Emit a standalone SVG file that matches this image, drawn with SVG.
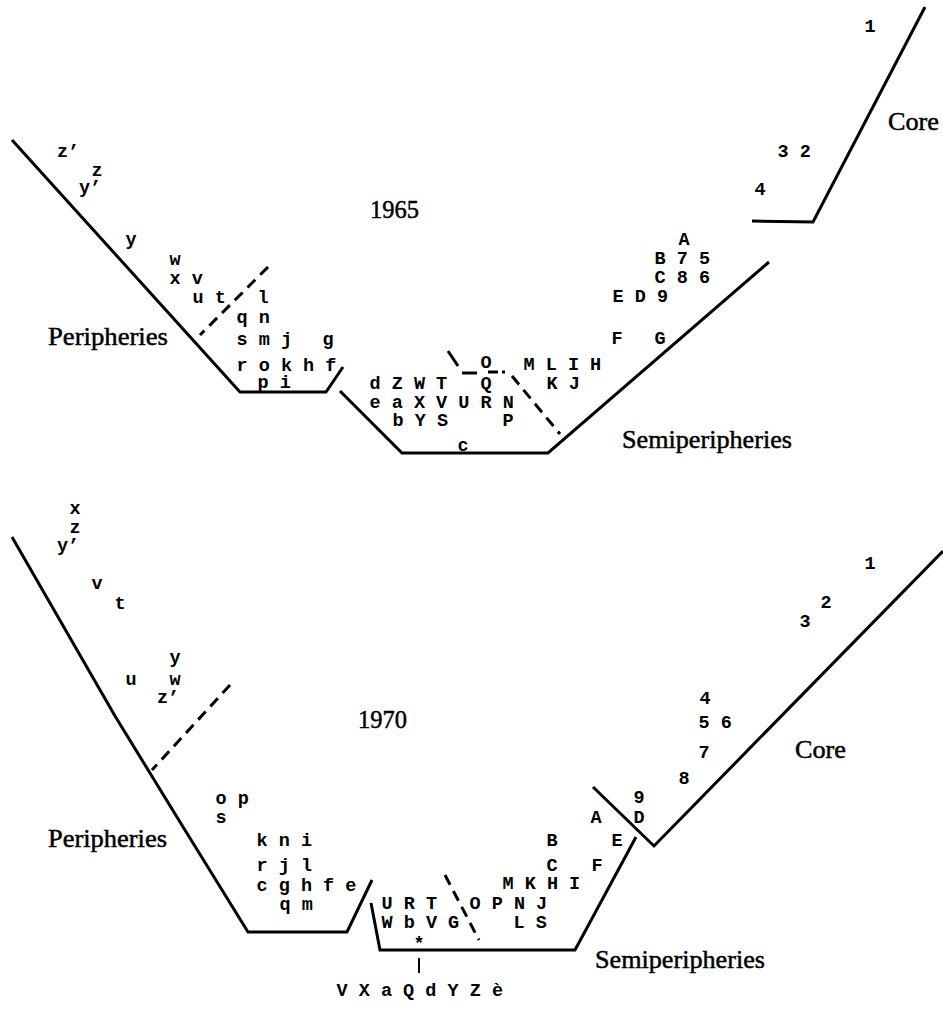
<svg xmlns="http://www.w3.org/2000/svg" width="943" height="1019" viewBox="0 0 943 1019">
<style>
.ln{stroke:#000;stroke-width:3;fill:none;stroke-linejoin:miter}
.ds{stroke:#000;stroke-width:3;fill:none;stroke-dasharray:11 7}
.m{font-family:"Liberation Mono","Courier New",monospace;font-size:18.5px;font-weight:bold;fill:#000}
.mc{font-family:"Liberation Mono","Courier New",monospace;font-size:18.5px;font-weight:bold;fill:#000;text-anchor:middle}
.s{font-family:"Liberation Serif","Times New Roman",serif;font-size:26px;fill:#000;stroke:#000;stroke-width:0.5}
</style>
<rect width="943" height="1019" fill="#fff"/>

<g id="chart-1965">
  <g id="connectors-1965">
    <polyline class="ln" points="12,140 240,392 326,392 343,367"/>
    <polyline class="ln" points="340,391 402,453 548,453 769,262"/>
    <polyline class="ln" points="752,221 813,222 925,7"/>
    <line class="ds" x1="268" y1="267" x2="200" y2="335"/>
    <line class="ln" x1="448" y1="351" x2="458" y2="366"/>
    <line class="ln" x1="462" y1="373" x2="477" y2="373"/>
    <line class="ln" x1="488" y1="372" x2="498" y2="372"/>
    <line class="ln" x1="502" y1="372" x2="505" y2="372"/>
    <line class="ds" x1="512" y1="376" x2="560" y2="434"/>
  </g>
  <g id="labels-1965">
    <text class="s" x="370" y="218" textLength="49" lengthAdjust="spacingAndGlyphs">1965</text>
    <text class="s" x="48" y="345" textLength="120" lengthAdjust="spacingAndGlyphs">Peripheries</text>
    <text class="s" x="888" y="130" textLength="51" lengthAdjust="spacingAndGlyphs">Core</text>
    <text class="s" x="622" y="448" textLength="170" lengthAdjust="spacingAndGlyphs">Semiperipheries</text>
  </g>
  <g id="peripheries-1965">
    <text class="m" x="57" y="157">z’</text>
    <text class="mc" x="97" y="176">z</text>
    <text class="m" x="79" y="193">y’</text>
    <text class="mc" x="131" y="245">y</text>
    <text class="mc" x="175" y="265">w</text>
    <text class="m" x="169.5" y="284">x v</text>
    <text class="m" x="192.5" y="303">u t</text>
    <text class="mc" x="263" y="303">l</text>
    <text class="m" x="236.5" y="323">q n</text>
    <text class="m" x="236.5" y="345">s m j</text>
    <text class="mc" x="328" y="345">g</text>
    <text class="m" x="236.5" y="371">r o k h f</text>
    <text class="m" x="257.5" y="388">p i</text>
  </g>
  <g id="semiperipheries-1965">
    <text class="mc" x="486" y="368">O</text>
    <text class="m" x="523.5" y="370">M L I H</text>
    <text class="m" x="369.5" y="389">d Z W T</text>
    <text class="mc" x="486" y="389">Q</text>
    <text class="m" x="546.5" y="389">K J</text>
    <text class="m" x="369.5" y="408">e a X V U R N</text>
    <text class="m" x="392.5" y="426">b Y S</text>
    <text class="mc" x="508" y="426">P</text>
    <text class="mc" x="463" y="451">c</text>
    <text class="mc" x="684" y="245">A</text>
    <text class="m" x="654.5" y="264">B 7 5</text>
    <text class="m" x="654.5" y="283">C 8 6</text>
    <text class="m" x="612.5" y="302">E D 9</text>
    <text class="mc" x="617" y="344">F</text>
    <text class="mc" x="660" y="344">G</text>
  </g>
  <g id="core-1965">
    <text class="mc" x="870" y="32">1</text>
    <text class="m" x="777.5" y="157">3 2</text>
    <text class="mc" x="760" y="195">4</text>
  </g>
</g>

<g id="chart-1970">
  <g id="connectors-1970">
    <polyline class="ln" points="12,537 115,716 180,822 248,932 347,932 372,880"/>
    <polyline class="ln" points="371,903 380,950 575,950 636,837"/>
    <polyline class="ln" points="593,787 654,846 943,551"/>
    <line class="ds" x1="230" y1="685" x2="152" y2="770"/>
    <line class="ds" x1="445" y1="875" x2="479" y2="940"/>
    <line class="ln" x1="419" y1="958" x2="419" y2="973" style="stroke-width:2"/>
  </g>
  <g id="labels-1970">
    <text class="s" x="358" y="728" textLength="49" lengthAdjust="spacingAndGlyphs">1970</text>
    <text class="s" x="48" y="847" textLength="119" lengthAdjust="spacingAndGlyphs">Peripheries</text>
    <text class="s" x="795" y="758" textLength="51" lengthAdjust="spacingAndGlyphs">Core</text>
    <text class="s" x="595" y="968" textLength="170" lengthAdjust="spacingAndGlyphs">Semiperipheries</text>
  </g>
  <g id="peripheries-1970">
    <text class="mc" x="75" y="514">x</text>
    <text class="mc" x="75" y="533">z</text>
    <text class="m" x="57" y="551">y’</text>
    <text class="mc" x="97" y="589">v</text>
    <text class="mc" x="120" y="609">t</text>
    <text class="mc" x="175" y="663">y</text>
    <text class="mc" x="131" y="685">u</text>
    <text class="mc" x="175" y="685">w</text>
    <text class="m" x="157" y="703">z’</text>
    <text class="m" x="215.5" y="804">o p</text>
    <text class="mc" x="221" y="823">s</text>
    <text class="m" x="256.5" y="846">k n i</text>
    <text class="m" x="256.5" y="871">r j l</text>
    <text class="m" x="256.5" y="891">c g h f e</text>
    <text class="m" x="279.5" y="910">q m</text>
  </g>
  <g id="semiperipheries-1970">
    <text class="m" x="381.5" y="909">U R T</text>
    <text class="m" x="381.5" y="928">W b V G</text>
    <text class="mc" x="419" y="949">*</text>
    <text class="m" x="336.5" y="996">V X a Q d Y Z è</text>
    <text class="m" x="469.5" y="909">O P N J</text>
    <text class="m" x="513.5" y="928">L S</text>
    <text class="m" x="502.5" y="889">M K H I</text>
    <text class="mc" x="552" y="871">C</text>
    <text class="mc" x="597" y="871">F</text>
    <text class="mc" x="552" y="846">B</text>
    <text class="mc" x="617" y="846">E</text>
    <text class="mc" x="596" y="823">A</text>
    <text class="mc" x="639" y="823">D</text>
    <text class="mc" x="639" y="803">9</text>
  </g>
  <g id="core-1970">
    <text class="mc" x="870" y="569">1</text>
    <text class="mc" x="826" y="608">2</text>
    <text class="mc" x="805" y="627">3</text>
    <text class="mc" x="705" y="704">4</text>
    <text class="m" x="698.5" y="728">5 6</text>
    <text class="mc" x="704" y="758">7</text>
    <text class="mc" x="684" y="784">8</text>
  </g>
</g>
</svg>
